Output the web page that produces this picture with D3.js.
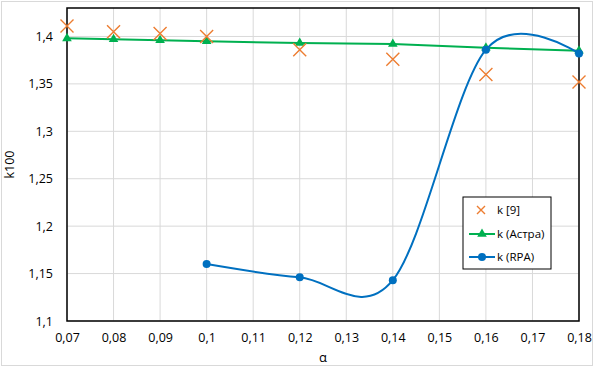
<!DOCTYPE html>
<html><head><meta charset="utf-8">
<script src="https://cdn.jsdelivr.net/npm/d3@7"></script>
<style>body{margin:0;background:#fff}svg{display:block}text{font-family:"Open Sans","Noto Sans",sans-serif}</style>
</head><body><svg id="c" width="595" height="368"></svg>
<script>
const xTicks = [0.07,0.08,0.09,0.1,0.11,0.12,0.13,0.14,0.15,0.16,0.17,0.18];
const yTicks = [1.1,1.15,1.2,1.25,1.3,1.35,1.4];
const kLitX = [0.07,0.08,0.09,0.1,0.12,0.14,0.16,0.18];
const kLitY = [1.411,1.405,1.403,1.400,1.386,1.376,1.360,1.352];
const kAstraX = [0.07,0.08,0.09,0.1,0.12,0.14,0.16,0.18];
const kAstraY = [1.398,1.397,1.396,1.395,1.393,1.392,1.388,1.385];
const kRpaX = [0.1,0.12,0.14,0.16,0.18];
const kRpaY = [1.160,1.146,1.143,1.386,1.382];
const names = ["k [9]","k (Астра)","k (RPA)"];
const cOr="#ED7D31", cGr="#00B050", cBl="#0070C0";

const svg=d3.select("#c");
const L=67,R=579,T=8,B=321;
const x=d3.scaleLinear().domain([0.07,0.18]).range([L,R]);
const y=d3.scaleLinear().domain([1.1,1.43]).range([B,T]);
const fmt=v=>String(+v.toFixed(2)).replace(".",",");

svg.append("rect").attr("x",1.5).attr("y",1.5).attr("width",591).attr("height",364).attr("fill","#fff").attr("stroke","#d9d9d9");

svg.append("g").selectAll("line").data(xTicks).join("line")
 .attr("x1",d=>x(d)).attr("x2",d=>x(d)).attr("y1",T).attr("y2",B).attr("stroke","#d9d9d9").attr("stroke-width",1);
svg.append("g").selectAll("line").data(yTicks).join("line")
 .attr("y1",d=>y(d)).attr("y2",d=>y(d)).attr("x1",L).attr("x2",R).attr("stroke","#d9d9d9").attr("stroke-width",1);

const xa=svg.append("g").attr("transform",`translate(0,${B})`).call(d3.axisBottom(x).tickValues(xTicks).tickFormat(fmt).tickSize(0).tickPadding(12));
xa.select(".domain").remove();
xa.selectAll("text").attr("font-size",12.5).attr("fill","#000");
const ya=svg.append("g").attr("transform",`translate(${L},0)`).call(d3.axisLeft(y).tickValues(yTicks).tickFormat(fmt).tickSize(0).tickPadding(14));
ya.select(".domain").remove();
ya.selectAll("text").attr("font-size",12.5).attr("fill","#000");

svg.append("rect").attr("x",L).attr("y",T).attr("width",R-L).attr("height",B-T).attr("fill","none").attr("stroke","#000").attr("stroke-width",1.5);

svg.append("text").attr("transform",`translate(14,${(T+B)/2}) rotate(-90)`).attr("text-anchor","middle").attr("font-size",12.5).text("k100");
svg.append("text").attr("x",323).attr("y",362).attr("text-anchor","middle").attr("font-size",13).text("α");

const astra=kAstraX.map((v,i)=>[v,kAstraY[i]]);
const rpa=kRpaX.map((v,i)=>[v,kRpaY[i]]);
const lit=kLitX.map((v,i)=>[v,kLitY[i]]);

svg.append("path").datum(astra).attr("fill","none").attr("stroke",cGr).attr("stroke-width",2)
 .attr("d",d3.line().x(d=>x(d[0])).y(d=>y(d[1])));
const tri=d3.symbol().type(d3.symbolTriangle).size(40);
svg.append("g").selectAll("path").data(astra).join("path").attr("d",tri)
 .attr("transform",d=>`translate(${x(d[0])},${y(d[1])})`).attr("fill",cGr);

svg.append("path").datum(rpa).attr("fill","none").attr("stroke",cBl).attr("stroke-width",2)
 .attr("d",d3.line().curve(d3.curveCardinal.tension(0)).x(d=>x(d[0])).y(d=>y(d[1])));
svg.append("g").selectAll("circle").data(rpa).join("circle")
 .attr("cx",d=>x(d[0])).attr("cy",d=>y(d[1])).attr("r",4).attr("fill",cBl);

const cross=(g,cx,cy,s)=>{g.append("path").attr("d",`M${cx-s},${cy-s}L${cx+s},${cy+s}M${cx-s},${cy+s}L${cx+s},${cy-s}`).attr("stroke",cOr).attr("stroke-width",1.4).attr("fill","none");};
const lg=svg.append("g");
lit.forEach(d=>cross(lg,x(d[0]),y(d[1]),6.5));

// legend
const lx=463, ly=197;
svg.append("rect").attr("x",lx).attr("y",ly).attr("width",88).attr("height",72).attr("fill","#fff").attr("stroke","#000").attr("stroke-width",1);
const rows=[ly+13,ly+37,ly+60];
cross(svg,lx+18,rows[0],4);
svg.append("line").attr("x1",lx+6).attr("x2",lx+32).attr("y1",rows[1]).attr("y2",rows[1]).attr("stroke",cGr).attr("stroke-width",2);
svg.append("path").attr("d",tri).attr("transform",`translate(${lx+19},${rows[1]})`).attr("fill",cGr);
svg.append("line").attr("x1",lx+6).attr("x2",lx+32).attr("y1",rows[2]).attr("y2",rows[2]).attr("stroke",cBl).attr("stroke-width",2);
svg.append("circle").attr("cx",lx+19).attr("cy",rows[2]).attr("r",4).attr("fill",cBl);
names.forEach((n,i)=>svg.append("text").attr("x",lx+34).attr("y",rows[i]+4).attr("font-size",11.5).text(n));
</script></body></html>
